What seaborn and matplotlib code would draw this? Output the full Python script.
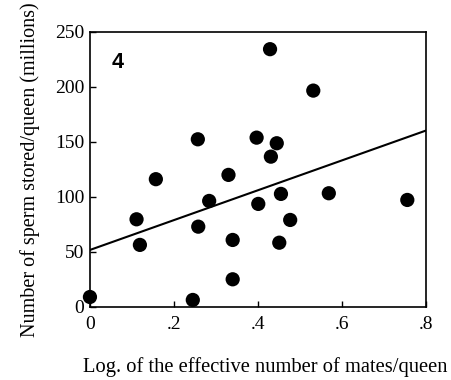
import matplotlib
matplotlib.use("Agg")
import matplotlib.pyplot as plt
import seaborn as sns
import pandas as pd

mates_log = [0.0, 0.111, 0.119, 0.157, 0.245, 0.258, 0.284, 0.330, 0.340, 0.340,
             0.257, 0.397, 0.429, 0.532, 0.401, 0.445, 0.431, 0.455, 0.569, 0.756,
             0.477, 0.451]
sperm = [8.8, 79.5, 56.2, 116.0, 6.1, 72.8, 96.2, 119.9, 60.7, 24.9,
         152.3, 153.8, 234.3, 196.6, 93.5, 148.7, 136.5, 102.6, 103.2, 97.1,
         78.9, 58.2]
fit_x = [0.0, 0.8]
fit_y = [51.6, 160.2]
x_ticks = [0, 0.2, 0.4, 0.6, 0.8]
x_tick_labels = ["0", ".2", ".4", ".6", ".8"]
y_ticks = [0, 50, 100, 150, 200, 250]

sns.set_style("white")
plt.rcParams['font.family'] = ['Liberation Serif', 'DejaVu Serif']
plt.rcParams['text.color'] = 'black'
plt.rcParams['axes.labelcolor'] = 'black'

df = pd.DataFrame({"x": mates_log, "y": sperm})
fit = pd.DataFrame({"x": fit_x, "y": fit_y})

fig = plt.figure(figsize=(4.52, 3.80), dpi=100)
ax = fig.add_axes([0.199, 0.193, 0.743, 0.723])

sns.lineplot(data=fit, x="x", y="y", ax=ax, color="black", linewidth=1.5)
sns.scatterplot(data=df, x="x", y="y", ax=ax, color="black", s=105,
                edgecolor="none", zorder=3, clip_on=False)

ax.set_xlim(0, 0.8)
ax.set_ylim(0, 250)
ax.set_xticks(x_ticks)
ax.set_xticklabels(x_tick_labels)
ax.set_yticks(y_ticks)
ax.tick_params(direction="in", length=4, width=1, labelsize=14, colors="black",
               bottom=True, left=True)
ax.tick_params(axis="x", pad=7)
ax.tick_params(axis="y", pad=4)
for s in ax.spines.values():
    s.set_visible(True)
    s.set_color("black")
    s.set_linewidth(1.2)

ax.set_xlabel("Log. of the effective number of mates/queen", fontsize=14.8,
              color="black")
ax.xaxis.set_label_coords(0.523, -0.22)
ax.xaxis.label.set_verticalalignment("center")
ax.set_ylabel("Number of sperm stored/queen (millions)", fontsize=14.5,
              labelpad=11, color="black")
ax.text(0.065, 0.869, "4", transform=ax.transAxes, fontsize=15.5, fontweight="bold",
        color="black", family=["Liberation Sans", "DejaVu Sans"])

fig.savefig("out.png", dpi=100)
